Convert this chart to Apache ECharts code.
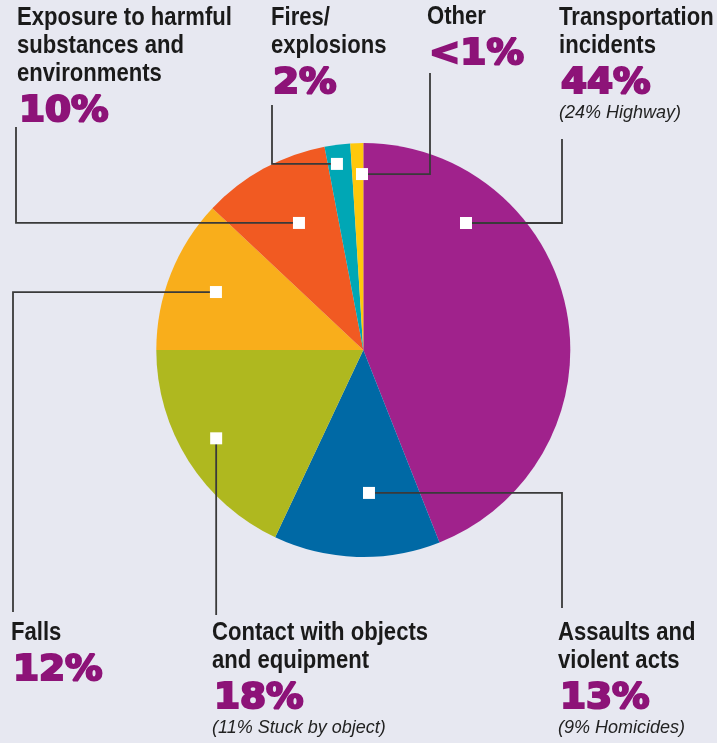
<!DOCTYPE html>
<html>
<head>
<meta charset="utf-8">
<script src="https://cdn.jsdelivr.net/npm/echarts/dist/echarts.min.js"></script>
<style>
html,body{margin:0;padding:0;background:#E7E8F1;}
#c{width:717px;height:743px;}
</style>
</head>
<body>
<div id="c"></div>
<script>
// ---------- data ----------
const categories = [
  'Transportation incidents',
  'Assaults and violent acts',
  'Contact with objects and equipment',
  'Falls',
  'Exposure to harmful substances and environments',
  'Fires/explosions',
  'Other'
];
const values = [44, 13, 18, 12, 10, 2, 1];
const percentLabels = ['44%', '13%', '18%', '12%', '10%', '2%', '<1%'];
const titleLines = [
  ['Transportation', 'incidents'],
  ['Assaults and', 'violent acts'],
  ['Contact with objects', 'and equipment'],
  ['Falls'],
  ['Exposure to harmful', 'substances and', 'environments'],
  ['Fires/', 'explosions'],
  ['Other']
];
const subNotes = ['(24% Highway)', '(9% Homicides)', '(11% Stuck by object)', '', '', '', ''];

// ---------- layout & style ----------
const colors = ['#A0228C', '#0069A5', '#AFB81F', '#F9AE1B', '#F15A22', '#00A7B5', '#FFC80B'];
const CX = 363.3, CY = 350, R = 207;
// marker: [radius fraction, position within the slice 0..1]
const markerPolar = [[0.789, 0.246], [0.691, 0.413], [0.829, 0.522], [0.765, 0.497], [0.688, 0.554], [0.908, 0.38], [0.85, 0.88]];
// label anchor (x, first-line cap centre) and leader route (elbow x, end y)
const labelPos = [
  { x: 559, y: 17.7, elbowX: 562, endY: 139 },
  { x: 558, y: 632.7, elbowX: 562, endY: 608 },
  { x: 212, y: 632.7, elbowX: null, endY: 615 },
  { x: 11, y: 632.7, elbowX: 13, endY: 612 },
  { x: 17, y: 17.7, elbowX: 16, endY: 127 },
  { x: 271, y: 17.7, elbowX: 272, endY: 105 },
  { x: 427, y: 17, elbowX: 430, endY: 73 }
];
const TITLE_FONT = "'Liberation Sans', Arial, sans-serif";
const PCT_FONT = "'DejaVu Sans', 'Liberation Sans', sans-serif";
const PCT_COLOR = '#8D1378';

const total = values.reduce((a, b) => a + b, 0);
let cum = 0;
const markerData = [];
const markerPix = [];
values.forEach((v, i) => {
  const ang = cum + markerPolar[i][1] * v; // in value units (0..total)
  markerData.push([markerPolar[i][0], ang / total * 100]);
  const th = ang / total * 2 * Math.PI;
  markerPix.push([CX + markerPolar[i][0] * R * Math.sin(th), CY - markerPolar[i][0] * R * Math.cos(th)]);
  cum += v;
});

const graphics = [];
values.forEach((v, i) => {
  const L = labelPos[i];
  const [px, py] = markerPix[i];
  const pts = L.elbowX == null ? [[px, py], [px, L.endY]] : [[px, py], [L.elbowX, py], [L.elbowX, L.endY]];
  graphics.push({
    type: 'polyline', z: 10, silent: true,
    shape: { points: pts },
    style: { stroke: '#3a3a3a', lineWidth: 1.8, fill: null }
  });
  const y = L.y;
  titleLines[i].forEach((t, k) => {
    graphics.push({
      type: 'text', z: 10, silent: true, x: L.x, y: y + k * 28, scaleX: 0.85,
      style: { text: t, fontFamily: TITLE_FONT, fontWeight: 'bold', fontSize: 26, fill: '#1a1a1a', verticalAlign: 'middle', align: 'left' }
    });
  });
  const pctY = y + (titleLines[i].length - 1) * 28 + 35.5;
  graphics.push({
    type: 'text', z: 10, silent: true, x: L.x + 2, y: pctY + 2, scaleX: 1.04,
    style: { text: percentLabels[i], fontFamily: PCT_FONT, fontWeight: 'bold', fontSize: 36, fill: PCT_COLOR,
             stroke: PCT_COLOR, lineWidth: 2.2, verticalAlign: 'middle', align: 'left' }
  });
  if (subNotes[i]) {
    graphics.push({
      type: 'text', z: 10, silent: true, x: L.x, y: pctY + 31.5,
      style: { text: subNotes[i], fontFamily: "'Liberation Sans', Arial, sans-serif", fontStyle: 'italic', fontSize: 18, fill: '#222', verticalAlign: 'middle', align: 'left' }
    });
  }
});

const chart = echarts.init(document.getElementById('c'), null, { renderer: 'canvas' });
chart.setOption({
  backgroundColor: '#E7E8F1',
  animation: false,
  polar: { center: [CX, CY], radius: R },
  angleAxis: { type: 'value', min: 0, max: 100, startAngle: 90, clockwise: true, show: false },
  radiusAxis: { type: 'value', min: 0, max: 1, show: false },
  graphic: graphics,
  series: [
    {
      type: 'pie',
      center: [CX, CY],
      radius: R,
      startAngle: 90,
      clockwise: true,
      silent: true,
      label: { show: false },
      labelLine: { show: false },
      itemStyle: { borderWidth: 0 },
      emphasis: { disabled: true },
      z: 2,
      data: values.map((v, i) => ({ name: categories[i], value: v, itemStyle: { color: colors[i] } }))
    },
    {
      type: 'scatter',
      coordinateSystem: 'polar',
      symbol: 'rect',
      symbolSize: 12,
      silent: true,
      z: 20,
      itemStyle: { color: '#ffffff', opacity: 1 },
      emphasis: { disabled: true },
      data: markerData
    }
  ]
});
</script>
</body>
</html>
